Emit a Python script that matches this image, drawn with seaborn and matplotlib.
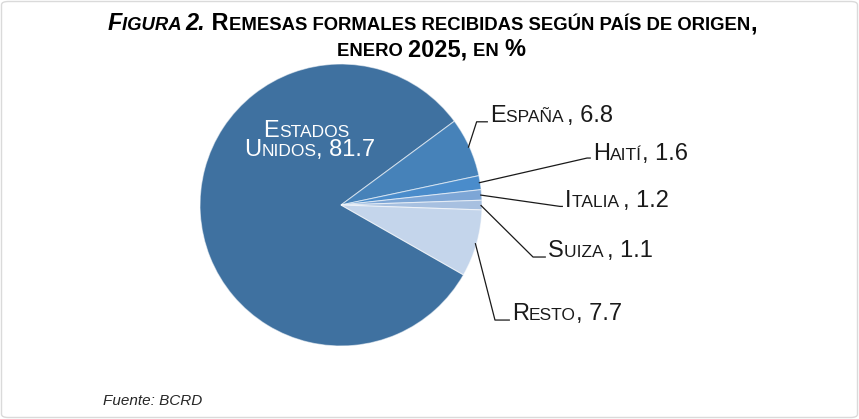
import matplotlib
matplotlib.use("Agg")
import matplotlib.pyplot as plt
import seaborn as sns
import numpy as np
from matplotlib import font_manager
from matplotlib.patches import FancyBboxPatch

# ---------------- data ----------------
countries = ["Estados Unidos", "España", "Haití", "Italia", "Suiza", "Resto"]
shares = [81.7, 6.8, 1.6, 1.2, 1.1, 7.7]
label_texts = ["Estados Unidos, 81.7", "España , 6.8", "Haití, 1.6",
               "Italia , 1.2", "Suiza , 1.1", "Resto, 7.7"]
slice_colors = ["#3F71A0", "#4682B9", "#4A8CCB", "#7DA6D6", "#A7C0E0", "#C4D5EB"]
title_line1 = [("Figura 2.", "italic"), (" Remesas formales recibidas según país de origen,", "normal")]
title_line2 = "enero 2025, en %"
source_text = "Fuente: BCRD"

# ---------------- style ----------------
sns.set_theme(style="white")
palette = sns.color_palette(slice_colors)


def has_font(name):
    try:
        font_manager.findfont(font_manager.FontProperties(family=name),
                              fallback_to_default=False)
        return True
    except Exception:
        return False


BODY = "Liberation Sans" if has_font("Liberation Sans") else "DejaVu Sans"
NARROW = "Liberation Sans Narrow" if has_font("Liberation Sans Narrow") else BODY
plt.rcParams["font.family"] = [BODY, "DejaVu Sans"]

W, H = 859, 419
fig = plt.figure(figsize=(W / 100, H / 100), dpi=100)
fig.patch.set_facecolor("white")

cx, cy, R = 341, 205, 141
ax = fig.add_axes([(cx - R) / W, (H - cy - R) / H, 2 * R / W, 2 * R / H])
wedges, _ = ax.pie(shares, colors=palette, startangle=330.3, counterclock=False,
                   radius=1, wedgeprops=dict(edgecolor=(1, 1, 1, 0.55), linewidth=0.8))
ax.set_xlim(-1, 1)
ax.set_ylim(-1, 1)
ax.axis("off")

renderer = fig.canvas.get_renderer()


def text_width(s, size, weight, style, family):
    t1 = fig.text(0, 0, "|" + s + "|", fontsize=size, weight=weight, style=style, family=family)
    t2 = fig.text(0, 0, "||", fontsize=size, weight=weight, style=style, family=family)
    w = t1.get_window_extent(renderer).width - t2.get_window_extent(renderer).width
    t1.remove()
    t2.remove()
    return w


def runs(text, big, small):
    out = []
    for ch in text:
        if ch.islower():
            s, c = small, ch.upper()
        elif ch == " " and out:
            s, c = out[-1][1], ch
        else:
            s, c = big, ch
        if out and out[-1][1] == s:
            out[-1][0] += c
        else:
            out.append([c, s])
    return out


def draw_runs(pieces, x, y, ha="left", color="black", family=BODY):
    # pieces: list of (text, size, weight, style); x, y in display pixels (bottom origin)
    widths = [text_width(t, s, w, st, family) for t, s, w, st in pieces]
    total = sum(widths)
    if ha == "center":
        x = x - total / 2
    for (t, s, w, st), wd in zip(pieces, widths):
        fig.text(x / W, y / H, t, fontsize=s, weight=w, style=st, family=family,
                 color=color, ha="left", va="baseline")
        x += wd
    return total


def smallcaps_pieces(text, big, small, weight="normal", style="normal"):
    return [(t, s, weight, style) for t, s in runs(text, big, small)]


# ---------------- title ----------------
TB, TS = 16.9, 13.35
p1 = []
for txt, st in title_line1:
    p1 += smallcaps_pieces(txt, TB, TS, weight="bold", style=st)
draw_runs(p1, 432, H - 30, ha="center", family=NARROW)
draw_runs(smallcaps_pieces(title_line2, TB, TS, weight="bold"), 431, H - 56,
          ha="center", family=NARROW)

# ---------------- labels ----------------
LB, LS = 17.0, 12.5
# layout (data coords): elbow point, text anchor (left, baseline)
layout = {
    "España": ((0.962, 0.590), (1.057, 0.589)),
    "Haití": ((1.745, 0.333), (1.787, 0.319)),
    "Italia": ((1.553, -0.010), (1.589, -0.012)),
    "Suiza": ((1.362, -0.369), (1.468, -0.366)),
    "Resto": ((1.092, -0.816), (1.213, -0.816)),
}

for name, w, lab in zip(countries, wedges, label_texts):
    if name == "Estados Unidos":
        px, py = ax.transData.transform((-0.245, 0.482))
        parts = lab.split(" ", 1)
        draw_runs(smallcaps_pieces(parts[0], LB, LS), px, py, ha="center", color="white")
        px2, py2 = ax.transData.transform((-0.220, 0.345))
        draw_runs(smallcaps_pieces(parts[1], LB, LS), px2, py2, ha="center", color="white")
        continue
    (ex, ey), (tx, ty) = layout[name]
    mid = np.deg2rad((w.theta1 + w.theta2) / 2)
    sx, sy = 0.99 * np.cos(mid), 0.99 * np.sin(mid)
    ax.plot([sx, ex, tx - 0.015], [sy, ey, ey], color="#1a1a1a", lw=0.9,
            clip_on=False, solid_capstyle="butt")
    px, py = ax.transData.transform((tx, ty))
    draw_runs(smallcaps_pieces(lab, LB, LS), px, py, ha="left", color="#1a1a1a")

# ---------------- source ----------------
fig.text(103 / W, (H - 405) / H, source_text, fontsize=11, style="italic",
         family=NARROW, color="#262626", ha="left", va="baseline")

# ---------------- border ----------------
fig.patches.append(FancyBboxPatch((1.5 / W, 1.5 / H), (W - 3) / W, (H - 3) / H,
                                  boxstyle="round,pad=0,rounding_size=0.008",
                                  transform=fig.transFigure, fc="none",
                                  ec="#DADADA", lw=1.0))

fig.savefig("out.png", dpi=100, facecolor="white")
